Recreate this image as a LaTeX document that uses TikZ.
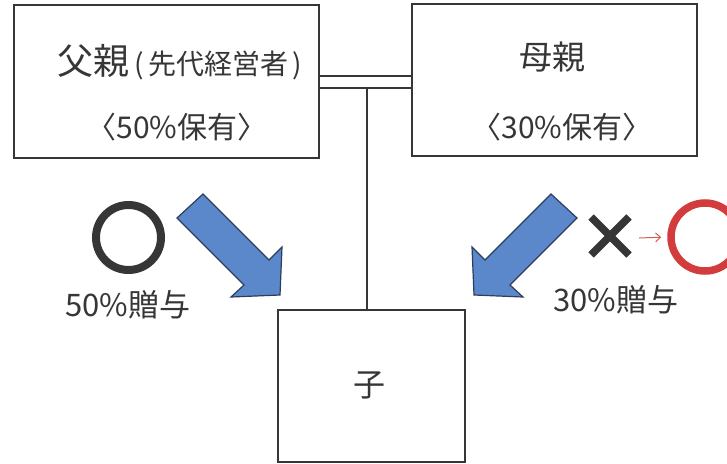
\documentclass[tikz,border=0pt]{standalone}
\usepackage{fontspec}
\setmainfont{Noto Sans CJK JP}
\usetikzlibrary{calc,arrows.meta}
\definecolor{ink}{HTML}{363636}
\definecolor{bluefill}{HTML}{5B88CB}
\definecolor{blueedge}{HTML}{2E3D5C}
\definecolor{redring}{HTML}{D23C3C}
\definecolor{redthin}{HTML}{D4604F}
\begin{document}
\begin{tikzpicture}[x=1pt,y=-1pt,
  box/.style={draw=ink,line width=1.4pt,inner sep=0pt},
  txt/.style={text=ink,inner sep=0pt},
  link/.style={draw=ink,line width=1.3pt},
  bigarrow/.style={fill=bluefill,draw=blueedge,line width=1.2pt,line join=miter}]
\useasboundingbox (0,0) rectangle (727,463);
\clip (0,0) rectangle (727,463);
% boxes
\node[box,minimum width=305pt,minimum height=153pt] (father) at (166.5,81.5) {};
\node[box,minimum width=285pt,minimum height=152pt] (mother) at (554.5,80) {};
\node[box,minimum width=187pt,minimum height=152pt] (child) at (371.5,386) {};
% texts
\node[txt,font=\fontsize{36}{40}\selectfont] (ftitle) at (180,62) {父親{\fontsize{28}{30}\selectfont\,(\,先代経営者\,)}};
\node[txt,font=\fontsize{30}{34}\selectfont] (fshare) at (177,127) {〈50\%保有〉};
\node[txt,font=\fontsize{33}{36}\selectfont] (mtitle) at (552,57) {母親};
\node[txt,font=\fontsize{30}{34}\selectfont] (mshare) at (562,127) {〈30\%保有〉};
\node[txt,font=\fontsize{32}{36}\selectfont] (ctitle) at (369,385) {子};
\node[txt,font=\fontsize{31}{34}\selectfont] (lgift) at (128,305) {50\%贈与};
\node[txt,font=\fontsize{31}{34}\selectfont] (rgift) at (616,300) {30\%贈与};
% marriage double line and descent line
\coordinate (m1) at (319,76);
\coordinate (m2) at (319,88);
\draw[link] (m1) -- (m1 -| mother.west);
\draw[link] (m2) -- (m2 -| mother.west);
\coordinate (j1) at (367,88);
\draw[link] (j1) -- (j1 |- child.north);
% blue arrows
\draw[bigarrow] (203,194) -- (269,260) -- (282,247) -- (280,295) -- (231,297) -- (244,285) -- (177,218) -- cycle;
\draw[bigarrow] (551,194) -- (485,260) -- (472,247) -- (474,295) -- (523,297) -- (510,285) -- (577,218) -- cycle;
% marks
\node[draw=ink,line width=8pt,circle,minimum size=65pt,inner sep=0pt] (lring) at (128.5,237.5) {};
\coordinate (xc) at (610,236);
\draw[ink,line width=7.5pt] ($(xc)+(-19,-19)$) -- ($(xc)+(19,19)$);
\draw[ink,line width=7.5pt] ($(xc)+(19,-19)$) -- ($(xc)+(-19,19)$);
\node[draw=redring,line width=7.5pt,circle,minimum size=68pt,inner sep=0pt] (rring) at (705,237) {};
\coordinate (ra) at (639,238);
\draw[redthin,line width=1pt,shorten >=6pt,-{Straight Barb[length=5pt,width=9pt]}] (ra) -- (rring.west);
\end{tikzpicture}
\end{document}
